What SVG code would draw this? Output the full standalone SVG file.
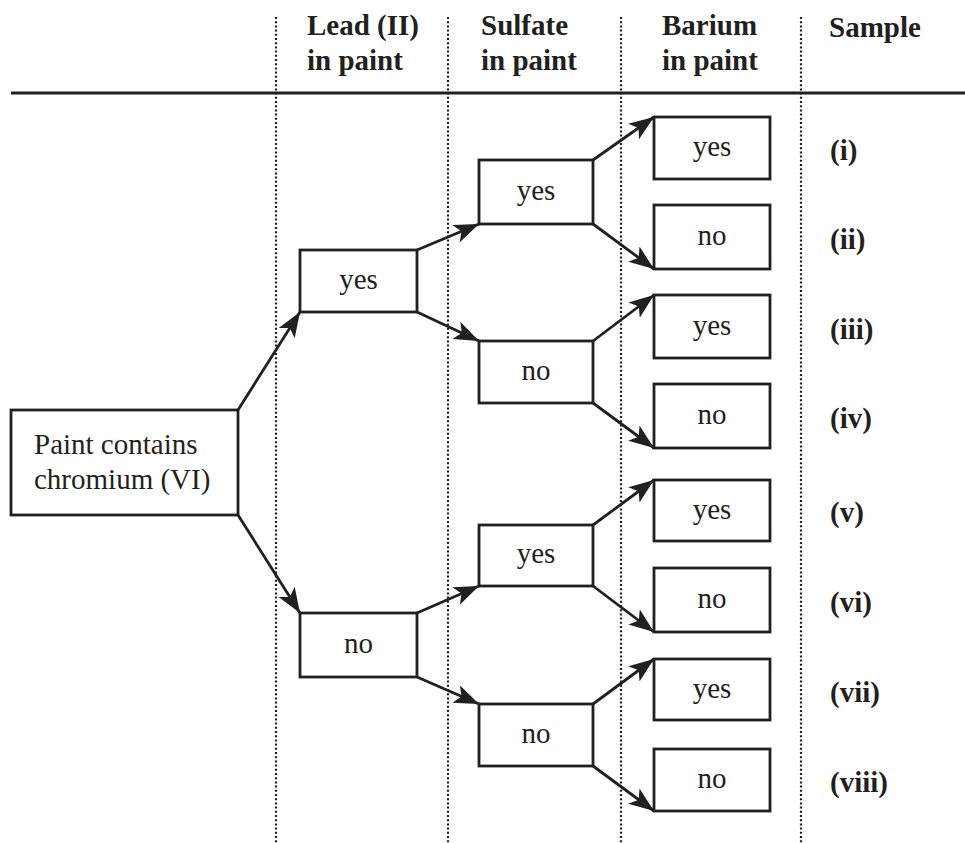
<svg xmlns="http://www.w3.org/2000/svg" width="965" height="843" viewBox="0 0 965 843">
<defs>
<style>
.box{fill:#fff;stroke:#231f20;stroke-width:2.8}
.t{font-family:'Liberation Serif','Times New Roman',Times,serif;font-size:29px;fill:#231f20}
.c{text-anchor:middle}
.h{font-family:'Liberation Serif','Times New Roman',Times,serif;font-size:29px;font-weight:bold;fill:#231f20}
.dot{stroke:#231f20;stroke-width:2.2;stroke-dasharray:2 2.2;fill:none}
.con line{stroke:#231f20;stroke-width:2.8;marker-end:url(#ah)}
</style>
<marker id="ah" markerUnits="userSpaceOnUse" markerWidth="28" markerHeight="20" refX="25" refY="9.5" orient="auto">
<path d="M0,0 L25,9.5 L0,19 L6,9.5 z" fill="#231f20"/>
</marker>
</defs>
<rect width="965" height="843" fill="#fff"/>
<g id="grid">
<line class="dot" x1="276" y1="17" x2="276" y2="843"/>
<line class="dot" x1="448" y1="17" x2="448" y2="843"/>
<line class="dot" x1="621" y1="17" x2="621" y2="843"/>
<line class="dot" x1="801" y1="17" x2="801" y2="843"/>
<line x1="11" y1="93" x2="965" y2="93" stroke="#231f20" stroke-width="3"/>
</g>
<g id="headers">
<text class="h" x="307" y="35">Lead (II)</text>
<text class="h" x="307" y="70">in paint</text>
<text class="h" x="481" y="35">Sulfate</text>
<text class="h" x="481" y="70">in paint</text>
<text class="h" x="662" y="35">Barium</text>
<text class="h" x="662" y="70">in paint</text>
<text class="h" x="829" y="37">Sample</text>
</g>
<g id="connectors" class="con">
<line x1="238" y1="410" x2="300" y2="312"/>
<line x1="238" y1="515" x2="300" y2="613"/>
<line x1="417" y1="250" x2="479" y2="224"/>
<line x1="417" y1="312" x2="479" y2="341"/>
<line x1="417" y1="613" x2="479" y2="586"/>
<line x1="417" y1="677" x2="479" y2="704"/>
<line x1="593" y1="160" x2="654" y2="117"/>
<line x1="593" y1="224" x2="654" y2="269"/>
<line x1="593" y1="341" x2="654" y2="295"/>
<line x1="593" y1="403" x2="654" y2="448"/>
<line x1="593" y1="525" x2="654" y2="480"/>
<line x1="593" y1="586" x2="654" y2="632"/>
<line x1="593" y1="704" x2="654" y2="659"/>
<line x1="593" y1="766" x2="654" y2="811"/>
</g>
<g id="root">
<rect class="box" x="11" y="410" width="227" height="105"/>
<text class="t" x="34" y="454">Paint contains</text>
<text class="t" x="34" y="489">chromium (VI)</text>
</g>
<g id="lead-yes"><rect class="box" x="300" y="250" width="117" height="62"/><text class="t c" x="358.5" y="289">yes</text></g>
<g id="lead-no"><rect class="box" x="300" y="613" width="117" height="64"/><text class="t c" x="358.5" y="653">no</text></g>
<g id="sulf-yes-1"><rect class="box" x="479" y="160" width="114" height="64"/><text class="t c" x="536" y="200">yes</text></g>
<g id="sulf-no-1"><rect class="box" x="479" y="341" width="114" height="62"/><text class="t c" x="536" y="380">no</text></g>
<g id="sulf-yes-2"><rect class="box" x="479" y="525" width="114" height="61"/><text class="t c" x="536" y="563">yes</text></g>
<g id="sulf-no-2"><rect class="box" x="479" y="704" width="114" height="62"/><text class="t c" x="536" y="743">no</text></g>
<g id="ba-1"><rect class="box" x="654" y="117" width="116" height="62"/><text class="t c" x="712" y="156">yes</text></g>
<g id="ba-2"><rect class="box" x="654" y="205" width="116" height="64"/><text class="t c" x="712" y="245">no</text></g>
<g id="ba-3"><rect class="box" x="654" y="295" width="116" height="63"/><text class="t c" x="712" y="335">yes</text></g>
<g id="ba-4"><rect class="box" x="654" y="384" width="116" height="64"/><text class="t c" x="712" y="424">no</text></g>
<g id="ba-5"><rect class="box" x="654" y="480" width="116" height="61"/><text class="t c" x="712" y="519">yes</text></g>
<g id="ba-6"><rect class="box" x="654" y="568" width="116" height="64"/><text class="t c" x="712" y="608">no</text></g>
<g id="ba-7"><rect class="box" x="654" y="659" width="116" height="61"/><text class="t c" x="712" y="698">yes</text></g>
<g id="ba-8"><rect class="box" x="654" y="749" width="116" height="62"/><text class="t c" x="712" y="788">no</text></g>
<g id="samples">
<text class="h" x="830" y="160">(i)</text>
<text class="h" x="830" y="249">(ii)</text>
<text class="h" x="830" y="339">(iii)</text>
<text class="h" x="830" y="428">(iv)</text>
<text class="h" x="830" y="522">(v)</text>
<text class="h" x="830" y="612">(vi)</text>
<text class="h" x="830" y="702">(vii)</text>
<text class="h" x="830" y="792">(viii)</text>
</g>
</svg>
